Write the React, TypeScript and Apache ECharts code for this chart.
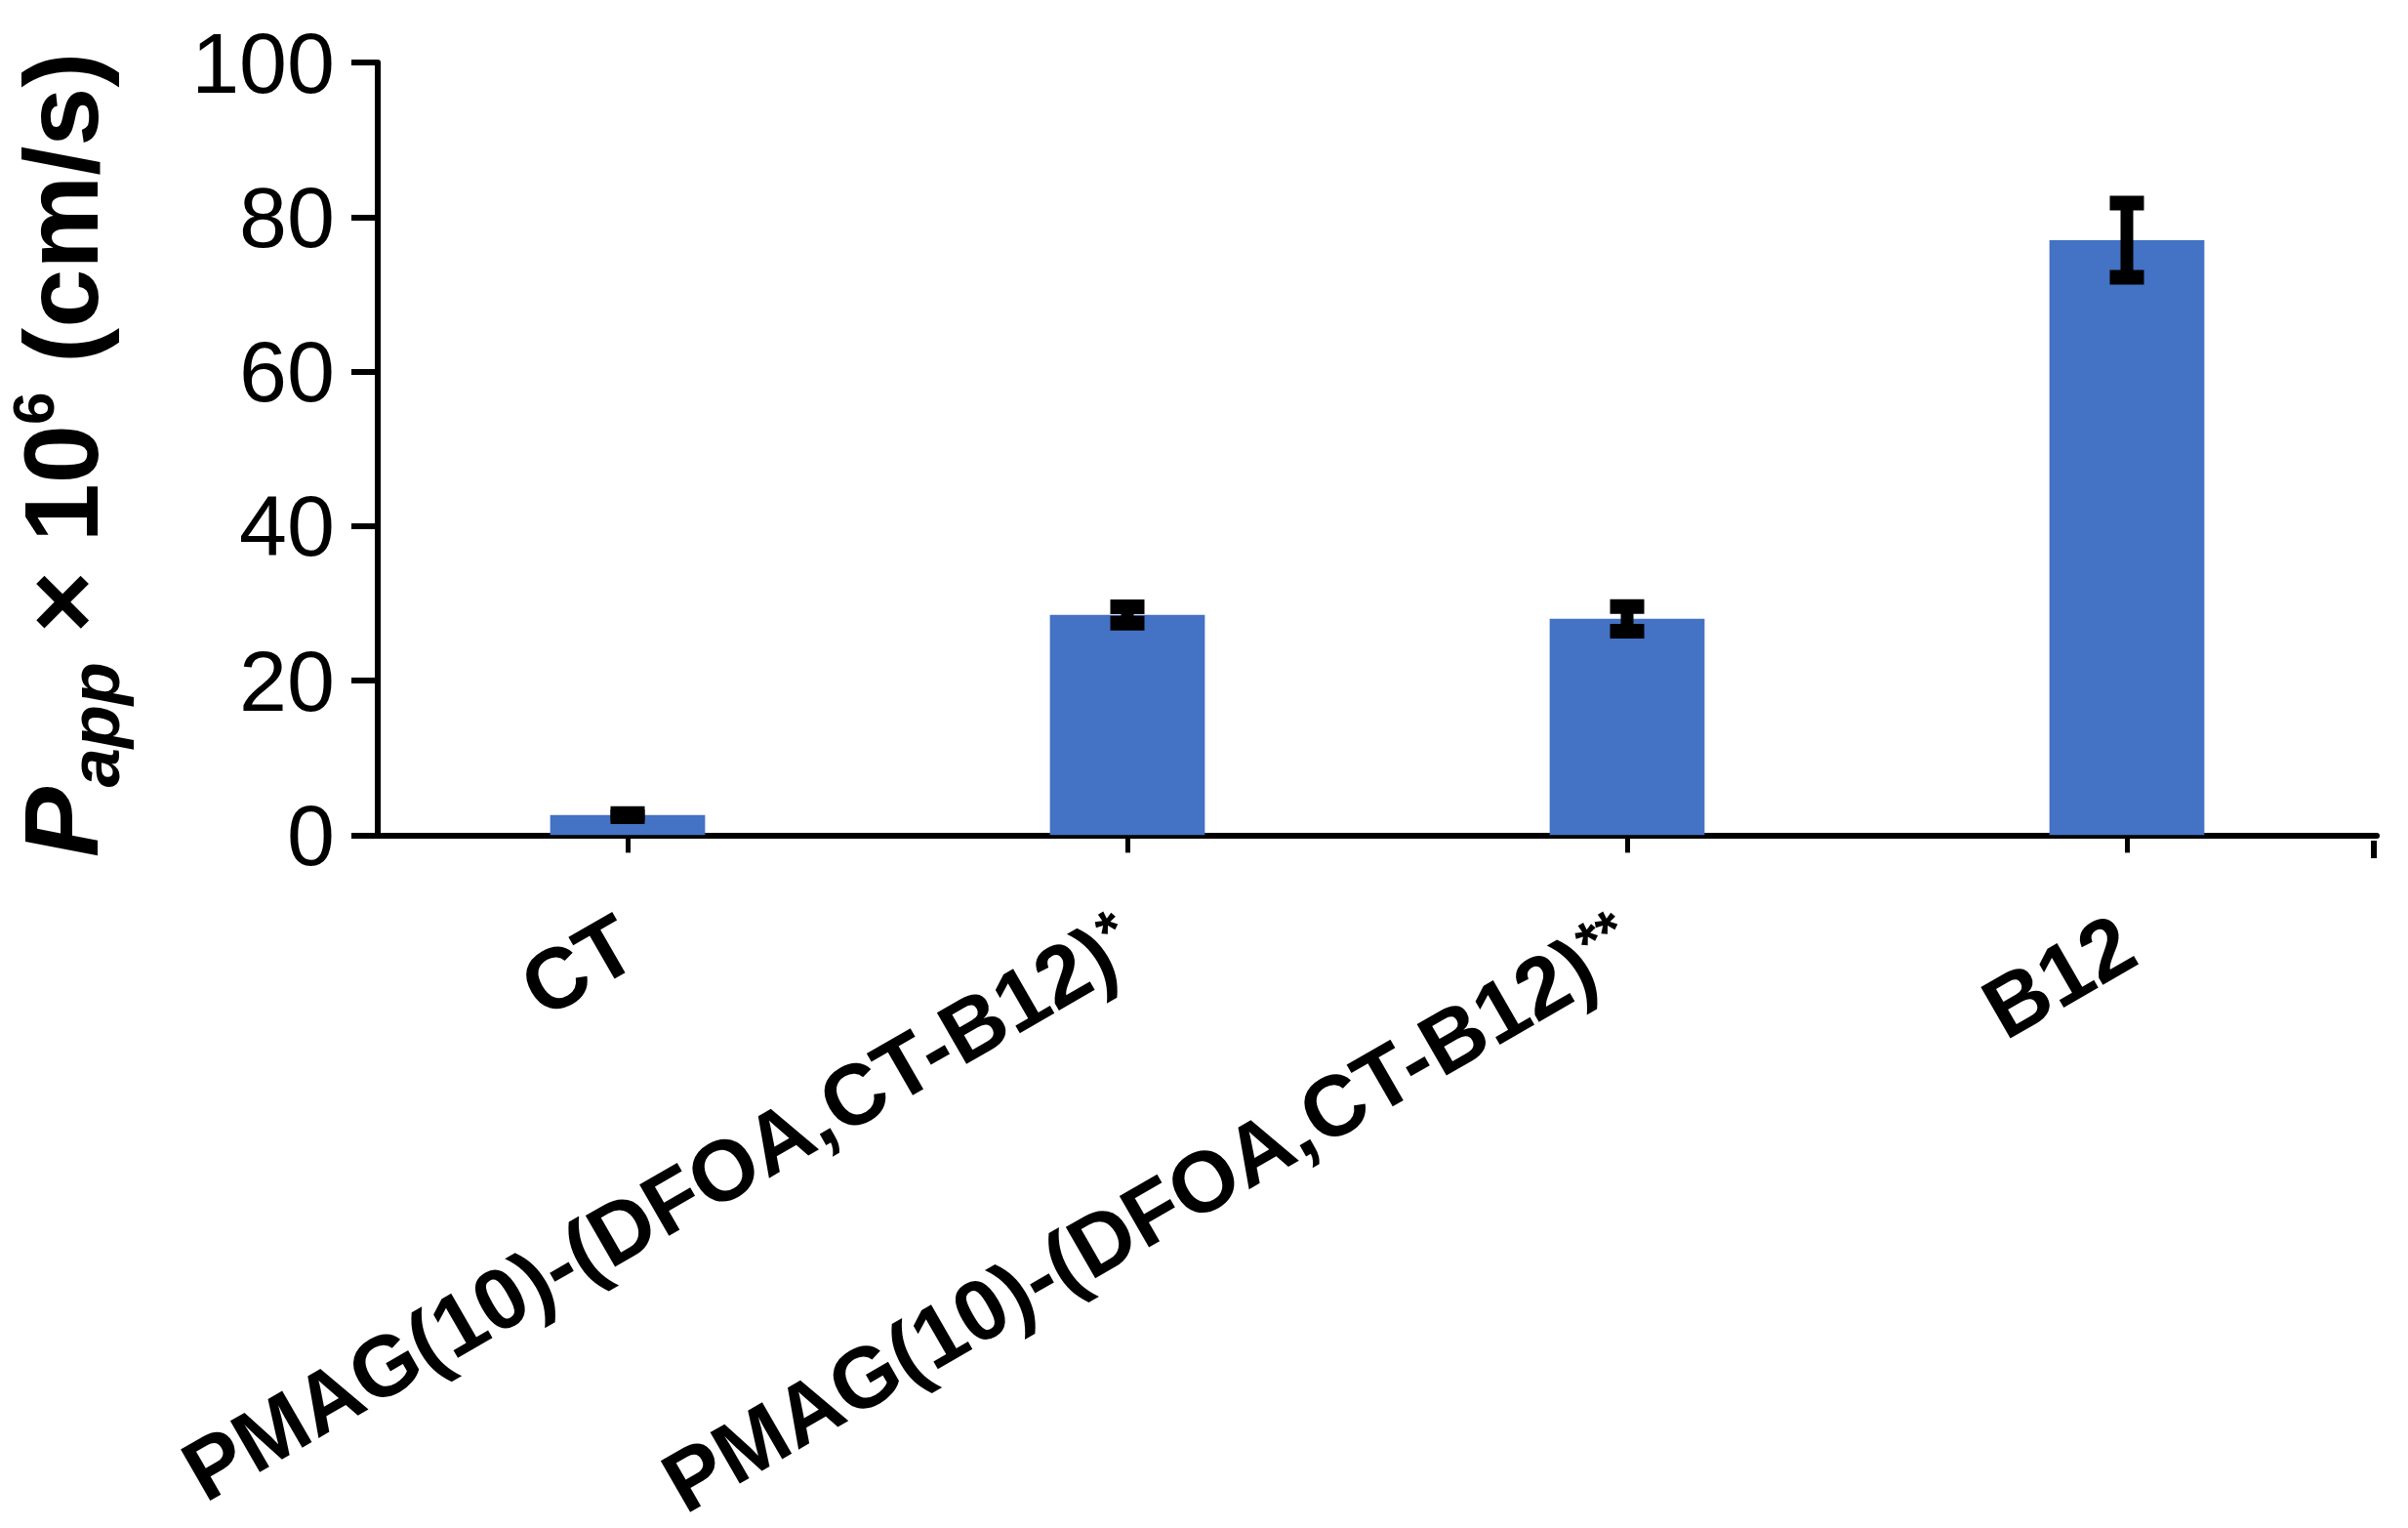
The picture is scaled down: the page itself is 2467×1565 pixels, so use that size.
import React, { useEffect, useRef } from "react";
import * as echarts from "echarts";

const categories = [
  "CT",
  "PMAG(10)-(DFOA,CT-B12)*",
  "PMAG(10)-(DFOA,CT-B12)**",
  "B12",
];
const values = [2.6, 28.5, 28.0, 77.0];
const errors = [0.2, 1.05, 1.6, 4.8];
const yTicks = [0, 20, 40, 60, 80, 100];

const FONT = '"Liberation Sans", Arial, sans-serif';

const GRID = { left: 387, right: 32, top: 64, bottom: 704 };
const W = 2467;
const H = 1565;

function measure(text: string, size: number, italic: boolean): number {
  const c = document.createElement("canvas").getContext("2d");
  if (!c) return text.length * size * 0.55;
  c.font = `${italic ? "italic " : ""}bold ${size}px "Liberation Sans"`;
  return c.measureText(text).width;
}

export default function App() {
  const ref = useRef<HTMLDivElement>(null);

  useEffect(() => {
    if (!ref.current) return;
    const chart = echarts.init(ref.current, null, { renderer: "svg" });

    // y-axis title segments (rotated, reading bottom to top)
    const F = 108;
    const segs = [
      { t: "P", size: F, italic: true, base: 101 },
      { t: "app", size: 72, italic: true, base: 123 },
      { t: " \u00d7 10", size: F, italic: false, base: 101 },
      { t: "6", size: 60, italic: false, base: 56 },
      { t: " (cm/s)", size: F, italic: false, base: 101 },
    ];
    const widths = segs.map((s) => measure(s.t, s.size, s.italic));
    const total = widths.reduce((a, b) => a + b, 0);
    let yStart = 466 + total / 2;
    const graphicEls: any[] = [];
    segs.forEach((s, i) => {
      graphicEls.push({
        type: "text",
        x: s.base - 0.36 * s.size,
        y: yStart,
        rotation: Math.PI / 2,
        style: {
          text: s.t,
          fontSize: s.size,
          lineHeight: s.size,
          fontWeight: "bold",
          fontStyle: s.italic ? "italic" : "normal",
          fontFamily: FONT,
          fill: "#000",
          align: "left",
          verticalAlign: "middle",
        },
      });
      yStart -= widths[i];
    });

    // end tick at the right end of the category axis (as in the original)
    const axisY = H - GRID.bottom;
    const axisRight = W - GRID.right;
    graphicEls.push({
      type: "line",
      shape: { x1: axisRight - 3, y1: axisY, x2: axisRight - 3, y2: axisY + 18 },
      style: { stroke: "#000", lineWidth: 6 },
    });

    const errData = categories.map((_, i) => [
      i,
      values[i] - errors[i],
      values[i] + errors[i],
    ]);

    chart.setOption({
      animation: false,
      backgroundColor: "#fff",
      grid: { ...GRID, containLabel: false },
      xAxis: {
        type: "category",
        data: categories,
        axisLine: { show: true, lineStyle: { color: "#000", width: 6 } },
        axisTick: {
          show: true,
          alignWithLabel: true,
          length: 18,
          lineStyle: { color: "#000", width: 5 },
        },
        axisLabel: {
          interval: 0,
          rotate: 30,
          margin: 104,
          fontSize: 88,
          fontWeight: "bold",
          fontFamily: FONT,
          color: "#000",
          formatter: (v: string) => {
            const m = v.match(/^(.*?)(\*+)$/);
            if (m) return `{b|${m[1]}}{s|${m[2]}}`;
            return `{b|${v}}`;
          },
          rich: {
            b: { fontSize: 88, fontWeight: "bold", fontFamily: FONT, color: "#000" },
            s: {
              fontSize: 60,
              fontWeight: "bold",
              fontFamily: FONT,
              color: "#000",
              verticalAlign: "top",
            },
          },
        },
      },
      yAxis: {
        type: "value",
        min: 0,
        max: 100,
        interval: 20,
        axisLine: { show: true, lineStyle: { color: "#000", width: 6 } },
        axisTick: { show: true, length: 27, lineStyle: { color: "#000", width: 6 } },
        splitLine: { show: false },
        axisLabel: {
          fontSize: 88,
          fontFamily: FONT,
          color: "#000",
          margin: 44,
          formatter: (v: number) => (yTicks.includes(v) ? String(v) : ""),
        },
      },
      series: [
        {
          type: "bar",
          data: values,
          barWidth: "31%",
          itemStyle: { color: "#4472C4" },
          z: 2,
        },
        {
          type: "custom",
          data: errData,
          encode: { x: 0, y: [1, 2] },
          z: 5,
          renderItem: (params: any, api: any) => {
            const idx = api.value(0);
            const lo = api.coord([idx, api.value(1)]);
            const hi = api.coord([idx, api.value(2)]);
            const cx = hi[0];
            return {
              type: "group",
              children: [
                {
                  type: "line",
                  shape: { x1: cx, y1: hi[1], x2: cx, y2: lo[1] },
                  style: { stroke: "#000", lineWidth: 13 },
                },
                {
                  type: "line",
                  shape: { x1: cx - 17.5, y1: hi[1], x2: cx + 17.5, y2: hi[1] },
                  style: { stroke: "#000", lineWidth: 15 },
                },
                {
                  type: "line",
                  shape: { x1: cx - 17.5, y1: lo[1], x2: cx + 17.5, y2: lo[1] },
                  style: { stroke: "#000", lineWidth: 15 },
                },
              ],
            };
          },
        },
      ],
      graphic: graphicEls,
    });

    return () => chart.dispose();
  }, []);

  return (
    <div
      ref={ref}
      style={{ position: "absolute", left: 0, top: 0, width: W, height: H }}
    />
  );
}
